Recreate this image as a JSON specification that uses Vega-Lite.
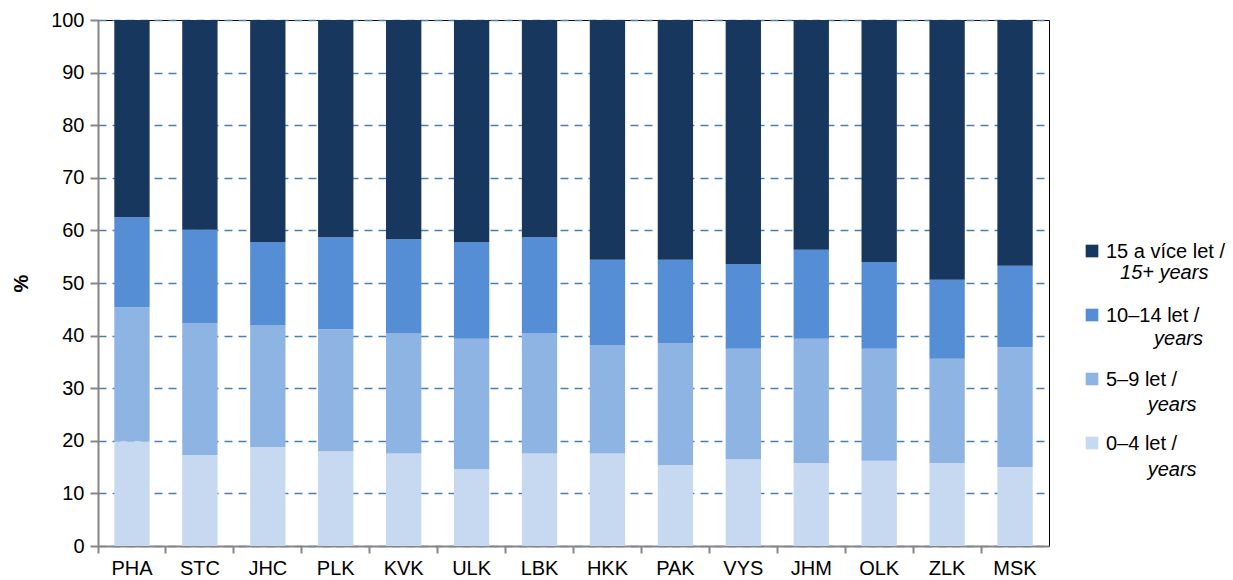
{
  "$schema": "https://vega.github.io/schema/vega-lite/v6.json",
  "autosize": {"type": "none"},
  "padding": {"left": 98, "top": 20, "right": 184, "bottom": 34},
  "width": 951,
  "height": 526,
  "background": "white",
  "config": {
    "font": "Liberation Sans",
    "view": {"stroke": "#000000", "strokeWidth": 1}
  },
  "data": {
    "values": [
      {"kraj": "PHA", "vek": "0–4 let /", "k": 1, "podil": 19.9},
      {"kraj": "PHA", "vek": "5–9 let /", "k": 2, "podil": 25.5},
      {"kraj": "PHA", "vek": "10–14 let /", "k": 3, "podil": 17.1},
      {"kraj": "PHA", "vek": "15 a více let /", "k": 4, "podil": 37.5},
      {"kraj": "STC", "vek": "0–4 let /", "k": 1, "podil": 17.3},
      {"kraj": "STC", "vek": "5–9 let /", "k": 2, "podil": 25.1},
      {"kraj": "STC", "vek": "10–14 let /", "k": 3, "podil": 17.7},
      {"kraj": "STC", "vek": "15 a více let /", "k": 4, "podil": 39.9},
      {"kraj": "JHC", "vek": "0–4 let /", "k": 1, "podil": 18.8},
      {"kraj": "JHC", "vek": "5–9 let /", "k": 2, "podil": 23.2},
      {"kraj": "JHC", "vek": "10–14 let /", "k": 3, "podil": 15.8},
      {"kraj": "JHC", "vek": "15 a více let /", "k": 4, "podil": 42.2},
      {"kraj": "PLK", "vek": "0–4 let /", "k": 1, "podil": 18.0},
      {"kraj": "PLK", "vek": "5–9 let /", "k": 2, "podil": 23.2},
      {"kraj": "PLK", "vek": "10–14 let /", "k": 3, "podil": 17.5},
      {"kraj": "PLK", "vek": "15 a více let /", "k": 4, "podil": 41.3},
      {"kraj": "KVK", "vek": "0–4 let /", "k": 1, "podil": 17.6},
      {"kraj": "KVK", "vek": "5–9 let /", "k": 2, "podil": 22.8},
      {"kraj": "KVK", "vek": "10–14 let /", "k": 3, "podil": 17.9},
      {"kraj": "KVK", "vek": "15 a více let /", "k": 4, "podil": 41.7},
      {"kraj": "ULK", "vek": "0–4 let /", "k": 1, "podil": 14.6},
      {"kraj": "ULK", "vek": "5–9 let /", "k": 2, "podil": 24.8},
      {"kraj": "ULK", "vek": "10–14 let /", "k": 3, "podil": 18.4},
      {"kraj": "ULK", "vek": "15 a více let /", "k": 4, "podil": 42.2},
      {"kraj": "LBK", "vek": "0–4 let /", "k": 1, "podil": 17.6},
      {"kraj": "LBK", "vek": "5–9 let /", "k": 2, "podil": 22.8},
      {"kraj": "LBK", "vek": "10–14 let /", "k": 3, "podil": 18.3},
      {"kraj": "LBK", "vek": "15 a více let /", "k": 4, "podil": 41.3},
      {"kraj": "HKK", "vek": "0–4 let /", "k": 1, "podil": 17.6},
      {"kraj": "HKK", "vek": "5–9 let /", "k": 2, "podil": 20.6},
      {"kraj": "HKK", "vek": "10–14 let /", "k": 3, "podil": 16.2},
      {"kraj": "HKK", "vek": "15 a více let /", "k": 4, "podil": 45.6},
      {"kraj": "PAK", "vek": "0–4 let /", "k": 1, "podil": 15.4},
      {"kraj": "PAK", "vek": "5–9 let /", "k": 2, "podil": 23.2},
      {"kraj": "PAK", "vek": "10–14 let /", "k": 3, "podil": 15.8},
      {"kraj": "PAK", "vek": "15 a více let /", "k": 4, "podil": 45.6},
      {"kraj": "VYS", "vek": "0–4 let /", "k": 1, "podil": 16.5},
      {"kraj": "VYS", "vek": "5–9 let /", "k": 2, "podil": 21.0},
      {"kraj": "VYS", "vek": "10–14 let /", "k": 3, "podil": 16.1},
      {"kraj": "VYS", "vek": "15 a více let /", "k": 4, "podil": 46.4},
      {"kraj": "JHM", "vek": "0–4 let /", "k": 1, "podil": 15.8},
      {"kraj": "JHM", "vek": "5–9 let /", "k": 2, "podil": 23.6},
      {"kraj": "JHM", "vek": "10–14 let /", "k": 3, "podil": 16.9},
      {"kraj": "JHM", "vek": "15 a více let /", "k": 4, "podil": 43.7},
      {"kraj": "OLK", "vek": "0–4 let /", "k": 1, "podil": 16.2},
      {"kraj": "OLK", "vek": "5–9 let /", "k": 2, "podil": 21.3},
      {"kraj": "OLK", "vek": "10–14 let /", "k": 3, "podil": 16.5},
      {"kraj": "OLK", "vek": "15 a více let /", "k": 4, "podil": 46.0},
      {"kraj": "ZLK", "vek": "0–4 let /", "k": 1, "podil": 15.8},
      {"kraj": "ZLK", "vek": "5–9 let /", "k": 2, "podil": 19.8},
      {"kraj": "ZLK", "vek": "10–14 let /", "k": 3, "podil": 15.0},
      {"kraj": "ZLK", "vek": "15 a více let /", "k": 4, "podil": 49.4},
      {"kraj": "MSK", "vek": "0–4 let /", "k": 1, "podil": 15.0},
      {"kraj": "MSK", "vek": "5–9 let /", "k": 2, "podil": 22.8},
      {"kraj": "MSK", "vek": "10–14 let /", "k": 3, "podil": 15.5},
      {"kraj": "MSK", "vek": "15 a více let /", "k": 4, "podil": 46.7}
    ]
  },
  "encoding": {
    "x": {
      "field": "kraj",
      "type": "nominal",
      "sort": ["PHA", "STC", "JHC", "PLK", "KVK", "ULK", "LBK", "HKK", "PAK", "VYS", "JHM", "OLK", "ZLK", "MSK"],
      "scale": {"paddingInner": 0.48, "paddingOuter": 0.24},
      "axis": {
        "title": null,
        "labelAngle": 0,
        "bandPosition": -0.46,
        "labelFontSize": 20,
        "labelColor": "#000000",
        "labelPadding": 5,
        "tickSize": 7,
        "tickColor": "#868686",
        "tickWidth": 2,
        "domainColor": "#868686",
        "domainWidth": 2,
        "grid": false
      }
    },
    "y": {
      "field": "podil",
      "type": "quantitative",
      "scale": {"domain": [0, 100], "nice": false},
      "axis": {
        "title": "%",
        "titleFontSize": 20,
        "titleFontWeight": "bold",
        "titleColor": "#000000",
        "titlePadding": 19,
        "values": [0, 10, 20, 30, 40, 50, 60, 70, 80, 90, 100],
        "labelFontSize": 20,
        "labelColor": "#000000",
        "labelPadding": 6,
        "tickSize": 8,
        "tickColor": "#868686",
        "tickWidth": 2,
        "domainColor": "#868686",
        "domainWidth": 2,
        "grid": true,
        "gridColor": "#4a7ebb",
        "gridWidth": 1.5,
        "gridDash": [8, 6]
      }
    }
  },
  "layer": [
    {
      "mark": {"type": "bar"},
      "encoding": {
        "y": {"field": "podil", "type": "quantitative", "stack": "zero"},
        "color": {
          "field": "vek",
          "type": "nominal",
          "sort": ["15 a více let /", "10–14 let /", "5–9 let /", "0–4 let /"],
          "scale": {
            "domain": ["15 a více let /", "10–14 let /", "5–9 let /", "0–4 let /"],
            "range": ["#17375e", "#558ed5", "#8eb4e3", "#c6d9f1"]
          },
          "legend": {
            "title": null,
            "orient": "none",
            "legendX": 984,
            "legendY": 221,
            "padding": 0,
            "symbolType": "square",
            "symbolSize": 160,
            "symbolStrokeWidth": 0,
            "labelFontSize": 20,
            "labelColor": "#000000",
            "labelOffset": 4,
            "labelLimit": 220,
            "labelBaseline": "alphabetic",
            "rowPadding": 43,
            "encode": {"labels": {"update": {"dy": {"value": 7}}}}
          }
        },
        "order": {"field": "k", "type": "quantitative", "sort": "ascending"}
      }
    },
    {
      "mark": {"type": "point", "opacity": 0},
      "encoding": {
        "shape": {
          "field": "k",
          "type": "nominal",
          "sort": "descending",
          "legend": {
            "title": null,
            "orient": "none",
            "legendX": 984,
            "legendY": 249,
            "padding": 0,
            "symbolType": "square",
            "symbolSize": 160,
            "symbolOpacity": 0,
            "symbolStrokeWidth": 0,
            "labelFontSize": 20,
            "labelFontStyle": "italic",
            "labelColor": "#000000",
            "labelOffset": 4,
            "labelLimit": 220,
            "labelBaseline": "alphabetic",
            "rowPadding": 43,
            "labelExpr": "datum.label == '4' ? '\\u200d\\u2002\\u2009' + '15+ years' : datum.label == '3' ? '\\u200d\\u2002\\u2002\\u2002\\u2002\\u2009\\u2009' + 'years' : '\\u200d\\u2002\\u2002\\u2002\\u2002\\u200a' + 'years'",
            "encode": {"labels": {"update": {"dy": {"value": 7}}}}
          }
        }
      }
    }
  ]
}
